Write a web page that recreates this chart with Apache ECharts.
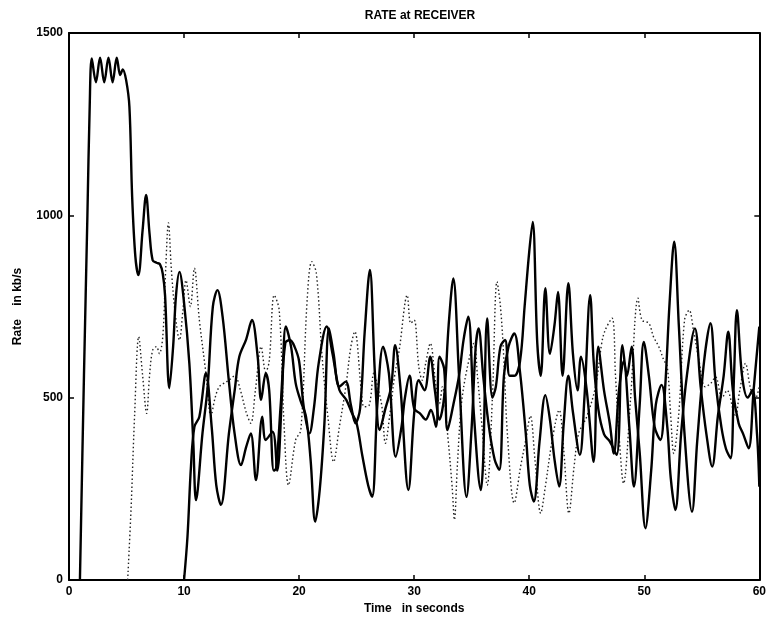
<!DOCTYPE html>
<html>
<head>
<meta charset="utf-8">
<title>RATE at RECEIVER</title>
<script src="https://cdn.jsdelivr.net/npm/echarts@6/dist/echarts.min.js"></script>
<style>
  html, body { margin: 0; padding: 0; background: #ffffff; }
  #chart { width: 769px; height: 621px; }
</style>
</head>
<body>
<div id="chart"></div>
<script>
// Axis ticks
const xTicks = [0, 10, 20, 30, 40, 50, 60];
const yTicks = [0, 500, 1000, 1500];

// Flow 1 (solid): time (s) and rate (kb/s)
const timeFlow1 = [0.95,1.3,1.6,1.8,1.98,2.34,2.7,3.06,3.43,3.79,4.15,4.45,4.67,4.97,5.25,5.49,5.77,6.03,6.4,6.7,7.0,7.27,7.6,7.9,8.15,8.35,8.72,9.05,9.3,9.6,10.0,10.46,10.8,11.04,11.6,12.05,12.5,12.9,13.35,13.9,14.4,14.95,15.4,15.8,16.25,16.8,17.1,17.7,18.1,18.5,18.85,19.3,19.7,20.1,20.6,21.0,21.4,21.8,22.2,22.6,23.0,23.5,24.05,24.5,24.9,25.3,25.7,26.15,26.6,27.0,27.5,28.0,28.35,28.8,29.5,30.0,30.4,30.9,31.4,31.8,32.2,32.6,33.0,33.4,33.9,34.55,35.0,35.35,35.6,36.0,36.5,37.0,37.4,37.8,38.2,38.7,39.2,39.7,40.05,40.4,40.9,41.4,41.8,42.2,42.6,43.0,43.4,43.8,44.4,44.8,45.3,45.6,46.0,46.5,47.0,47.6,48.1,48.5,48.9,49.2,49.6,50.1,50.6,51.0,51.5,52.0,52.3,52.7,53.2,53.7,54.4,54.9,55.4,55.9,56.4,56.9,57.3,57.7,58.2,58.6,59.07,59.5,60];
const rateFlow1 = [0,560,1000,1300,1430,1365,1432,1365,1432,1365,1432,1385,1400,1370,1298,1050,886,836,960,1056,950,877,870,866,840,780,526,640,780,845,760,594,380,219,402,530,749,795,722,544,400,315,365,402,274,448,384,407,300,500,695,640,540,494,448,329,160,250,430,690,620,530,544,480,430,470,680,850,560,411,470,530,644,530,247,457,548,520,612,520,440,500,700,827,560,228,420,640,690,560,420,330,302,560,640,676,570,402,260,215,380,507,440,330,256,430,560,460,343,500,781,600,470,400,380,343,644,560,640,500,350,142,300,480,535,420,280,192,400,560,690,530,400,311,450,560,681,520,430,400,361,520,695];

// Flow 2 (dotted)
const timeFlow2 = [5.1,5.4,5.7,6.06,6.4,6.75,7.0,7.27,7.6,7.85,8.15,8.4,8.64,8.9,9.2,9.6,9.9,10.17,10.55,10.9,11.33,11.9,12.34,12.7,13.06,13.5,13.9,14.4,14.9,15.4,15.8,16.2,16.7,17.1,17.4,17.84,18.27,18.7,19.08,19.7,20.15,20.7,21.1,21.5,22.0,22.5,23.0,23.5,24.06,24.5,24.84,25.4,25.65,26.1,26.5,26.9,27.2,27.5,27.9,28.3,28.7,29.4,29.7,30.0,30.4,30.7,31.0,31.4,31.9,32.2,32.45,32.9,33.3,33.5,33.75,34.1,34.6,35.2,35.5,35.9,36.35,36.8,37.2,37.5,37.8,38.1,38.7,39.25,39.7,40.1,40.5,41.0,41.4,42.0,42.6,43.0,43.45,43.9,44.3,45.0,45.76,46.3,46.6,47.2,47.5,47.8,48.2,48.8,49.46,49.8,50.4,50.8,51.26,51.7,52.0,52.3,52.56,53.0,53.5,53.9,54.3,54.7,55.3,55.8,56.2,56.75,57.2,57.9,58.3,58.8,59.2,59.6,60];
const rateFlow2 = [0,200,450,667,560,457,560,630,640,621,667,850,979,850,740,658,740,822,750,855,713,567,450,500,530,540,548,560,520,460,430,520,640,570,600,781,740,420,260,384,411,768,873,841,612,448,324,420,530,640,681,521,475,480,567,520,475,375,457,560,630,781,704,713,585,548,594,649,530,484,530,402,256,165,311,480,580,649,560,420,260,500,818,750,603,402,211,311,384,450,330,183,256,384,466,356,183,311,402,448,530,649,685,718,560,400,265,493,773,713,704,667,640,603,585,450,347,457,713,740,680,612,530,540,557,500,520,448,520,594,530,493,530];

// Flow 3 (solid)
const timeFlow3 = [10.0,10.3,10.6,10.9,11.33,11.9,12.4,12.8,13.2,13.9,14.4,14.8,15.4,15.9,16.4,16.7,17.1,17.4,17.8,18.0,18.4,18.8,19.2,19.6,20.0,20.4,20.9,21.3,21.7,22.4,22.9,23.5,24.1,24.6,25.0,25.5,26.0,26.35,26.8,27.3,27.8,28.4,28.9,29.2,29.6,30.0,30.5,31.0,31.45,31.9,32.2,32.6,32.9,33.4,33.9,34.3,34.7,35.2,35.8,36.0,36.35,36.8,37.1,37.5,37.9,38.3,38.7,39.2,39.6,40.0,40.3,40.7,41.0,41.4,41.8,42.2,42.5,42.9,43.4,43.8,44.2,44.5,45.0,45.6,46.0,46.5,47.0,47.35,47.8,48.2,48.7,49.1,49.6,49.96,50.4,50.9,51.4,51.8,52.2,52.6,53.0,53.5,54.15,54.6,55.2,55.75,56.2,56.7,57.1,57.5,57.8,58.05,58.5,59.0,59.4,59.8,60];
const rateFlow3 = [0,120,311,420,448,567,420,260,206,402,520,612,660,713,612,494,567,520,300,306,480,650,658,640,600,475,402,475,594,695,621,521,494,457,430,340,260,228,480,640,567,338,420,500,560,470,457,440,466,420,612,580,411,480,560,660,722,450,247,330,717,500,530,640,658,560,560,600,750,900,982,650,560,800,620,700,790,560,814,620,520,612,520,324,640,520,430,347,520,600,420,256,480,653,560,420,384,520,760,928,700,400,187,380,600,704,540,420,360,334,560,740,560,500,521,400,256];

function pairs(ts, vs) {
  return ts.map(function (t, i) { return [t, vs[i]]; });
}

const FONT = '"Liberation Sans", Arial, sans-serif';
const chart = echarts.init(document.getElementById('chart'), null, { renderer: 'canvas' });

const xBase = {
  type: 'value', min: 0, max: 60, interval: 10,
  axisLine: { show: true, onZero: false, lineStyle: { color: '#000', width: 2 } },
  axisTick: { show: true, inside: true, length: 5, lineStyle: { color: '#000', width: 1.5 } },
  splitLine: { show: false }
};
const yBase = {
  type: 'value', min: 0, max: 1500, interval: 500,
  axisLine: { show: true, onZero: false, lineStyle: { color: '#000', width: 2 } },
  axisTick: { show: true, inside: true, length: 5, lineStyle: { color: '#000', width: 1.5 } },
  splitLine: { show: false }
};

const option = {
  backgroundColor: '#ffffff',
  animation: false,
  title: {
    text: 'RATE at RECEIVER',
    left: 415, top: 5, textAlign: 'center',
    textStyle: { fontFamily: FONT, fontSize: 12, fontWeight: 'bold', color: '#000' }
  },
  grid: { left: 69, right: 8, top: 33, bottom: 41, containLabel: false },
  xAxis: [
    Object.assign({}, xBase, {
      position: 'bottom',
      name: 'Time   in seconds', nameLocation: 'middle', nameGap: 22,
      nameTextStyle: { fontFamily: FONT, fontSize: 12, fontWeight: 'bold', color: '#000' },
      axisLabel: { show: true, margin: 6, fontFamily: FONT, fontSize: 12, fontWeight: 'bold', color: '#000',
        formatter: function (v) { return xTicks.indexOf(v) >= 0 ? String(v) : ''; } }
    }),
    Object.assign({}, xBase, { position: 'top', axisLabel: { show: false } })
  ],
  yAxis: [
    Object.assign({}, yBase, {
      position: 'left',
      name: 'Rate    in kb/s', nameLocation: 'middle', nameGap: 45,
      nameTextStyle: { fontFamily: FONT, fontSize: 12, fontWeight: 'bold', color: '#000' },
      axisLabel: { show: true, margin: 6, fontFamily: FONT, fontSize: 12, fontWeight: 'bold', color: '#000',
        formatter: function (v) { return yTicks.indexOf(v) >= 0 ? String(v) : ''; } }
    }),
    Object.assign({}, yBase, { position: 'right', axisLabel: { show: false } })
  ],
  series: [
    {
      name: 'flow 1', type: 'line', xAxisIndex: 0, yAxisIndex: 0,
      data: pairs(timeFlow1, rateFlow1), showSymbol: false, smooth: 0.35,
      lineStyle: { color: '#000', width: 2.4 }, z: 3
    },
    {
      name: 'flow 2', type: 'line', xAxisIndex: 0, yAxisIndex: 0,
      data: pairs(timeFlow2, rateFlow2), showSymbol: false, smooth: 0.35,
      lineStyle: { color: '#222', width: 1.4, type: [1.5, 2.5] }, z: 2
    },
    {
      name: 'flow 3', type: 'line', xAxisIndex: 0, yAxisIndex: 0,
      data: pairs(timeFlow3, rateFlow3), showSymbol: false, smooth: 0.35,
      lineStyle: { color: '#000', width: 2.4 }, z: 3
    }
  ]
};

chart.setOption(option);
</script>
</body>
</html>
